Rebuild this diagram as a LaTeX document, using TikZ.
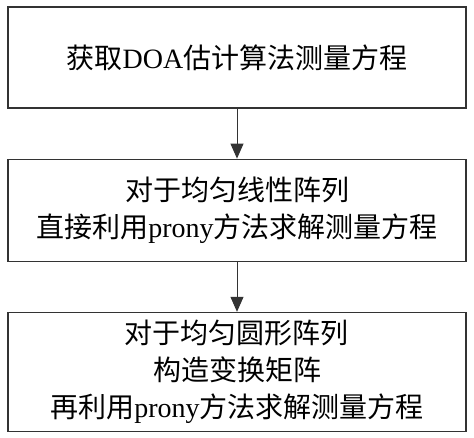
\documentclass[tikz,border=0pt]{standalone}
\usepackage{fontspec}
\setmainfont{Liberation Serif}
\newfontfamily\cjk{Noto Sans CJK SC}
\newcommand{\zh}[1]{{\cjk #1}}
\usetikzlibrary{arrows.meta,positioning}

\begin{document}
\begin{tikzpicture}
\tikzstyle{stepbox}=[draw=black!80, line width=1.2pt, minimum width=458pt,
  inner sep=0pt, align=center, font=\fontsize{28pt}{37pt}\selectfont]
\tikzstyle{flow}=[draw=black!80, line width=1pt, -{Triangle[width=13pt,length=15pt]}]
\useasboundingbox (0,0) rectangle (474pt,-437pt);
\node [stepbox, minimum height=101pt] (getEq) at (237pt,-57.5pt)
  {\zh{获取}DOA\zh{估计算法测量方程}};
\node [stepbox, minimum height=102pt, below=50pt of getEq] (linear)
  {\zh{对于均匀线性阵列}\\ \zh{直接利用}prony\zh{方法求解测量方程}};
\node [stepbox, minimum height=119pt, below=50pt of linear] (circular)
  {\zh{对于均匀圆形阵列}\\ \zh{构造变换矩阵}\\ \zh{再利用}prony\zh{方法求解测量方程}};
\draw [flow] (getEq) -- (linear);
\draw [flow] (linear) -- (circular);
\end{tikzpicture}
\end{document}
